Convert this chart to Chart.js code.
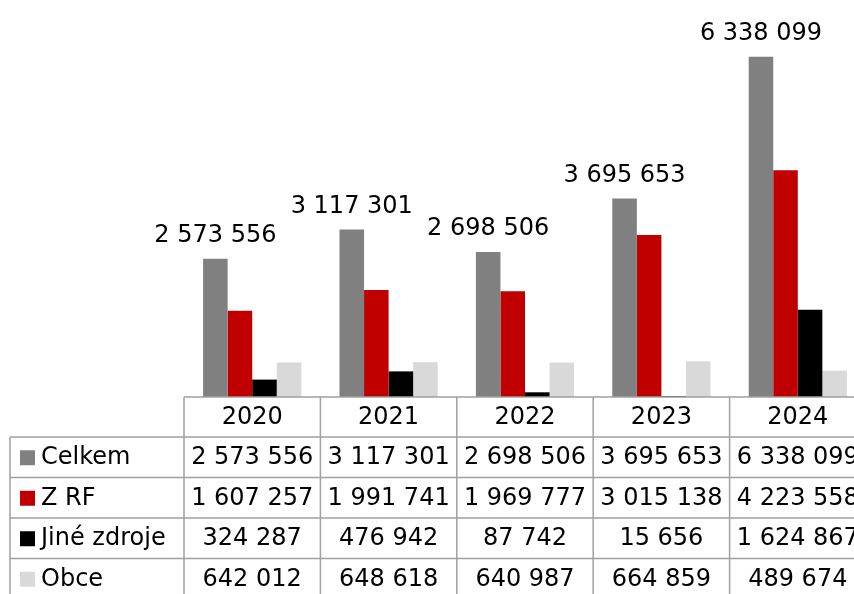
<!DOCTYPE html>
<html>
<head>
<meta charset="utf-8">
<script src="https://cdn.jsdelivr.net/npm/chart.js@4"></script>
<style>
  html, body { margin: 0; padding: 0; background: #fff; overflow: hidden; }
  #chart { display: block; }
</style>
</head>
<body>
<canvas id="chart" width="866" height="600"></canvas>
<script>
const years = ["2020", "2021", "2022", "2023", "2024"];
const celkem = [2573556, 3117301, 2698506, 3695653, 6338099];
const zRF = [1607257, 1991741, 1969777, 3015138, 4223558];
const jine = [324287, 476942, 87742, 15656, 1624867];
const obce = [642012, 648618, 640987, 664859, 489674];

const FONT = '"DejaVu Sans", sans-serif';
const FONT_SIZE = 24;
const LINE = "#a0a0a0";

function fmtNum(n) {
  return String(n).replace(/\B(?=(\d{3})+(?!\d))/g, " ");
}

const series = [
  { label: "Celkem", data: celkem, color: "#808080" },
  { label: "Z RF", data: zRF, color: "#c00000" },
  { label: "Jiné zdroje", data: jine, color: "#000000" },
  { label: "Obce", data: obce, color: "#d9d9d9" },
];

// labels above the Celkem bars
const topLabels = {
  id: "topLabels",
  afterDatasetsDraw(chart) {
    const ctx = chart.ctx;
    const meta = chart.getDatasetMeta(0);
    ctx.save();
    ctx.font = `${FONT_SIZE}px ${FONT}`;
    ctx.fillStyle = "#000";
    ctx.textAlign = "center";
    ctx.textBaseline = "alphabetic";
    meta.data.forEach((bar, i) => {
      ctx.fillText(fmtNum(celkem[i]), bar.x, bar.y - 17);
    });
    ctx.restore();
  },
};

// data table under the plot
const dataTable = {
  id: "dataTable",
  afterDraw(chart) {
    const ctx = chart.ctx;
    const x = chart.scales.x;
    const top = chart.chartArea.bottom;
    const headH = 40;
    const rowH = 40.5;
    const colW = x.width / years.length;
    const left = 10;
    const right = x.right;
    const bottom = top + headH + rowH * series.length;

    ctx.save();
    ctx.strokeStyle = LINE;
    ctx.lineWidth = 1.5;
    ctx.beginPath();
    // horizontal lines
    ctx.moveTo(x.left, top);
    ctx.lineTo(right, top);
    for (let r = 0; r <= series.length; r++) {
      const y = top + headH + rowH * r;
      ctx.moveTo(left, y);
      ctx.lineTo(right, y);
    }
    // vertical lines
    ctx.moveTo(left, top + headH);
    ctx.lineTo(left, bottom);
    for (let c = 0; c <= years.length; c++) {
      const xx = x.left + colW * c;
      ctx.moveTo(xx, top);
      ctx.lineTo(xx, bottom);
    }
    ctx.stroke();

    ctx.font = `${FONT_SIZE}px ${FONT}`;
    ctx.fillStyle = "#000";
    ctx.textBaseline = "middle";
    ctx.textAlign = "center";
    years.forEach((yr, i) => {
      ctx.fillText(yr, x.getPixelForValue(i), top + headH / 2 + 1);
    });

    series.forEach((s, r) => {
      const cy = top + headH + rowH * r + rowH / 2 + 1;
      ctx.fillStyle = s.color;
      ctx.fillRect(20, cy - 8, 15, 15);
      ctx.fillStyle = "#000";
      ctx.textAlign = "left";
      ctx.fillText(s.label, 41, cy);
      ctx.textAlign = "center";
      s.data.forEach((v, i) => {
        ctx.fillText(fmtNum(v), x.getPixelForValue(i), cy);
      });
    });
    ctx.restore();
  },
};

new Chart(document.getElementById("chart"), {
  type: "bar",
  data: {
    labels: years,
    datasets: series.map((s) => ({
      label: s.label,
      data: s.data,
      backgroundColor: s.color,
      borderWidth: 0,
      categoryPercentage: 0.72,
      barPercentage: 1,
    })),
  },
  options: {
    responsive: false,
    animation: false,
    devicePixelRatio: 1,
    layout: { padding: { left: 184, right: 0, top: 0, bottom: 203 } },
    scales: {
      x: { display: false },
      y: { display: false, min: 0, max: 7393000 },
    },
    plugins: {
      legend: { display: false },
      tooltip: { enabled: false },
    },
  },
  plugins: [topLabels, dataTable],
});
</script>
</body>
</html>
